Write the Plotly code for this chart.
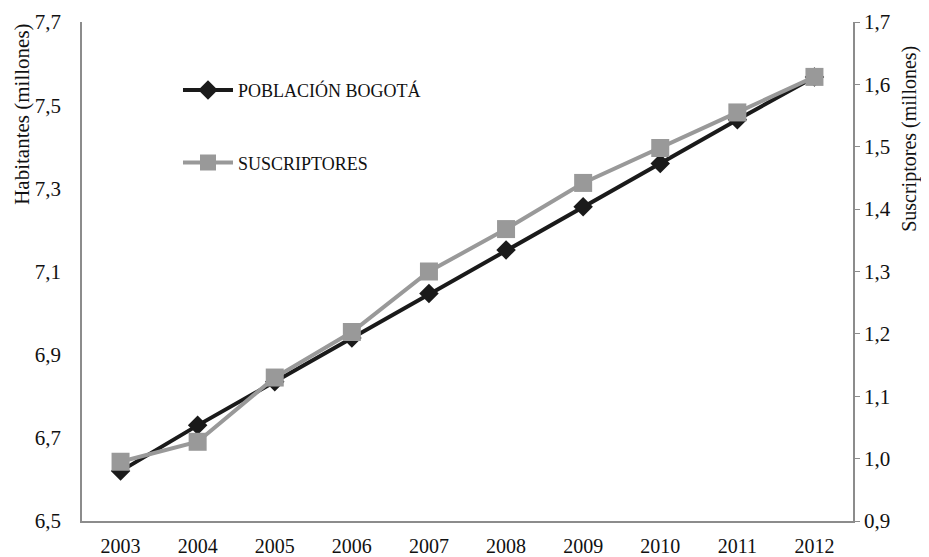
import plotly.graph_objects as go

years = ["2003", "2004", "2005", "2006", "2007", "2008", "2009", "2010", "2011", "2012"]
poblacion = [6.62, 6.73, 6.835, 6.94, 7.047, 7.152, 7.256, 7.36, 7.465, 7.568]
suscriptores = [0.995, 1.027, 1.130, 1.203, 1.300, 1.368, 1.442, 1.498, 1.555, 1.612]

FONT = "Liberation Serif"

fig = go.Figure()
fig.add_trace(go.Scatter(
    x=years, y=poblacion, name="POBLACIÓN BOGOTÁ", yaxis="y",
    mode="lines+markers", legendgroup="a",
    line=dict(color="#1a1a1a", width=4),
    marker=dict(symbol="diamond", size=15, color="#1a1a1a"),
))
fig.add_trace(go.Scatter(
    x=years, y=suscriptores, name="SUSCRIPTORES", yaxis="y2",
    mode="lines+markers", legendgroup="b",
    line=dict(color="#999999", width=4),
    marker=dict(symbol="square", size=18, color="#999999"),
))

fig.update_layout(
    width=921, height=549,
    margin=dict(l=74, r=76, t=14, b=36, autoexpand=False),
    plot_bgcolor="white", paper_bgcolor="white",
    separators=",.",
    font=dict(family=FONT, size=20, color="#111111"),
    showlegend=True,
    legend=dict(x=0.1245, y=0.9, xanchor="left", yanchor="top",
                bgcolor="rgba(0,0,0,0)", font=dict(size=18),
                tracegroupgap=46, itemwidth=50),
    xaxis=dict(type="category", range=[-0.5, 9.5], showgrid=False,
               showline=True, linecolor="#8c8c8c", linewidth=1.5,
               ticks="", tickfont=dict(size=20), zeroline=False, automargin=False,
               ticklabelstandoff=6),
    yaxis=dict(range=[6.5, 7.7], dtick=0.2, tick0=6.5, tickformat=".1f",
               showgrid=False, showline=True, linecolor="#8c8c8c", linewidth=1.5,
               ticks="", tickfont=dict(size=21), zeroline=False, automargin=False,
               ticklabelstandoff=15),
    yaxis2=dict(range=[0.9, 1.7], dtick=0.1, tick0=0.9, tickformat=".1f",
                overlaying="y", side="right",
                showgrid=False, showline=True, linecolor="#8c8c8c", linewidth=1.5,
                ticks="outside", ticklen=5, tickcolor="#8c8c8c",
                tickfont=dict(size=21), zeroline=False, automargin=False),
    annotations=[
        dict(text="Habitantes (millones)", xref="paper", yref="paper",
             x=-0.0778, y=0.814, textangle=-90, showarrow=False,
             font=dict(size=21), xanchor="center", yanchor="middle"),
        dict(text="Suscriptores (millones)", xref="paper", yref="paper",
             x=1.074, y=0.766, textangle=-90, showarrow=False,
             font=dict(size=20), xanchor="center", yanchor="middle"),
    ],
)

fig.write_html("out.html")
